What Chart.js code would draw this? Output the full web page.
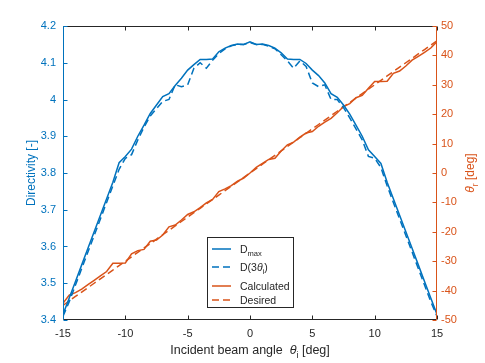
<!DOCTYPE html>
<html>
<head>
<meta charset="utf-8">
<script src="https://cdn.jsdelivr.net/npm/chart.js@4"></script>
<style>
html,body{margin:0;padding:0;background:#fff;}
#c{display:block;}
</style>
</head>
<body>
<canvas id="c" width="485" height="363"></canvas>
<script>
// ---- data ----
const thetaI = [-15,-14.5,-14,-13.5,-13,-12.5,-12,-11.5,-11,-10.5,-10,-9.5,-9,-8.5,-8,-7.5,-7,-6.5,-6,-5.5,-5,-4.5,-4,-3.5,-3,-2.5,-2,-1.5,-1,-0.5,0,0.5,1,1.5,2,2.5,3,3.5,4,4.5,5,5.5,6,6.5,7,7.5,8,8.5,9,9.5,10,10.5,11,11.5,12,12.5,13,13.5,14,14.5,15];
const dMax = [3.415,3.46,3.505,3.55,3.595,3.64,3.685,3.73,3.775,3.828,3.845,3.865,3.90,3.93,3.962,3.985,4.008,4.016,4.038,4.058,4.08,4.095,4.109,4.109,4.11,4.13,4.14,4.147,4.151,4.150,4.157,4.150,4.151,4.147,4.14,4.127,4.11,4.109,4.109,4.098,4.08,4.065,4.045,4.016,4.006,3.985,3.96,3.93,3.90,3.863,3.845,3.826,3.775,3.73,3.685,3.64,3.595,3.55,3.505,3.46,3.415];
const d3Theta = [3.41,3.45,3.495,3.54,3.585,3.63,3.675,3.72,3.765,3.81,3.84,3.85,3.89,3.925,3.955,3.975,3.995,4.0,4.04,4.035,4.04,4.085,4.1,4.085,4.107,4.125,4.138,4.146,4.15,4.15,4.155,4.15,4.15,4.145,4.138,4.122,4.105,4.085,4.105,4.09,4.045,4.035,4.04,4.0,4.0,3.978,3.95,3.92,3.89,3.845,3.84,3.815,3.765,3.72,3.675,3.63,3.585,3.54,3.495,3.45,3.41];
const calculated = [-44.3,-41.5,-40.7,-39.5,-38.0,-36.5,-35.0,-33.5,-30.7,-30.7,-30.6,-27.5,-26.4,-26.0,-23.2,-22.8,-21.1,-18.3,-17.7,-16.0,-14.1,-13.2,-11.8,-10.2,-9.0,-6.3,-5.4,-4.3,-2.8,-1.7,0,1.9,3.3,4.6,5.0,7.5,9.6,10.5,12.2,13.6,14.1,15.9,17.3,18.6,20.5,22.6,23.6,25.6,26.4,28.8,31.1,31.1,31.2,33.9,34.7,36.4,38.4,39.7,41.0,42.5,44.7];
const desired = [-45,-43.5,-42,-40.5,-39,-37.5,-36,-34.5,-33,-31.5,-30,-28.5,-27,-25.5,-24,-22.5,-21,-19.5,-18,-16.5,-15,-13.5,-12,-10.5,-9,-7.5,-6,-4.5,-3,-1.5,0,1.5,3,4.5,6,7.5,9,10.5,12,13.5,15,16.5,18,19.5,21,22.5,24,25.5,27,28.5,30,31.5,33,34.5,36,37.5,39,40.5,42,43.5,45];
const xTickValues = [-15,-10,-5,0,5,10,15];
const leftTickValues = [3.4,3.5,3.6,3.7,3.8,3.9,4.0,4.1,4.2];
const rightTickValues = [-50,-40,-30,-20,-10,0,10,20,30,40,50];
const legendLabels = ['D_max','D(3θ_i)','Calculated','Desired'];

const BLUE = '#0072BD', ORANGE = '#D95319', DARK = '#262626';
const FONT = '"Liberation Sans", Arial, Helvetica, sans-serif';

function pts(ys){ return thetaI.map((x,i)=>({x:x,y:ys[i]})); }

// rich text helper: segments {t, italic, sub}
function richWidth(ctx, segs, size){
  let w=0;
  for(const s of segs){
    const fs = s.sub ? size*0.72 : size;
    ctx.font = (s.italic?'italic ':'') + fs + 'px ' + FONT;
    w += ctx.measureText(s.t).width;
  }
  return w;
}
function richDraw(ctx, segs, size, x, y){
  for(const s of segs){
    const fs = s.sub ? size*0.72 : size;
    ctx.font = (s.italic?'italic ':'') + fs + 'px ' + FONT;
    ctx.fillText(s.t, x, y + (s.sub ? size*0.3 : 0));
    x += ctx.measureText(s.t).width;
  }
}

const decor = {
  id:'decor',
  afterDraw(chart){
    const ctx = chart.ctx, a = chart.chartArea;
    const sx = chart.scales.x, sy = chart.scales.y, sy1 = chart.scales.y1;
    const L = Math.round(a.left)+0.5, R = Math.round(a.right)-0.5, T = Math.round(a.top)+0.5, B = Math.round(a.bottom)-0.5;
    ctx.save();
    ctx.lineWidth = 1;
    ctx.strokeStyle = DARK;
    ctx.beginPath();
    ctx.moveTo(L,T); ctx.lineTo(R,T);
    ctx.moveTo(L,B); ctx.lineTo(R,B);
    for(const v of xTickValues){
      const px = Math.round(sx.getPixelForValue(v))+0.5;
      ctx.moveTo(px,B); ctx.lineTo(px,B-4);
      ctx.moveTo(px,T); ctx.lineTo(px,T+4);
    }
    ctx.stroke();
    ctx.strokeStyle = BLUE;
    ctx.beginPath();
    ctx.moveTo(L,T); ctx.lineTo(L,B);
    for(const v of leftTickValues){
      const py = Math.round(sy.getPixelForValue(v))+0.5;
      ctx.moveTo(L,py); ctx.lineTo(L+4,py);
    }
    ctx.stroke();
    ctx.strokeStyle = ORANGE;
    ctx.beginPath();
    ctx.moveTo(R,T); ctx.lineTo(R,B);
    for(const v of rightTickValues){
      const py = Math.round(sy1.getPixelForValue(v))+0.5;
      ctx.moveTo(R,py); ctx.lineTo(R-4,py);
    }
    ctx.stroke();

    // axis titles
    const midY = (a.top+a.bottom)/2;
    ctx.textBaseline = 'alphabetic';
    ctx.fillStyle = BLUE;
    ctx.save();
    ctx.translate(35, midY); ctx.rotate(-Math.PI/2);
    let segs = [{t:'Directivity [-]'}];
    let w = richWidth(ctx, segs, 12);
    richDraw(ctx, segs, 12, -w/2, 0);
    ctx.restore();

    ctx.fillStyle = ORANGE;
    ctx.save();
    ctx.translate(474, midY); ctx.rotate(-Math.PI/2);
    segs = [{t:'θ',italic:true},{t:'r',sub:true},{t:' [deg]'}];
    w = richWidth(ctx, segs, 12);
    richDraw(ctx, segs, 12, -w/2, 0);
    ctx.restore();

    ctx.fillStyle = DARK;
    segs = [{t:'Incident beam angle  '},{t:'θ',italic:true},{t:'i',sub:true},{t:' [deg]'}];
    w = richWidth(ctx, segs, 12.5);
    richDraw(ctx, segs, 12.5, (a.left+a.right)/2 - w/2, 354);

    // legend
    const bx = 207.5, by = 237.5, bw = 86, bh = 70;
    ctx.fillStyle = '#fff';
    ctx.fillRect(bx,by,bw,bh);
    ctx.strokeStyle = DARK; ctx.lineWidth = 1;
    ctx.strokeRect(bx,by,bw,bh);
    const ds = chart.data.datasets;
    const rows = [
      {y:249, segs:[{t:'D'},{t:'max',sub:true}]},
      {y:267, segs:[{t:'D(3'},{t:'θ',italic:true},{t:'i',sub:true},{t:')'}]},
      {y:286, segs:[{t:'Calculated'}]},
      {y:300, segs:[{t:'Desired'}]}
    ];
    rows.forEach((r,i)=>{
      ctx.strokeStyle = ds[i].borderColor; ctx.lineWidth = 1.5;
      ctx.setLineDash(ds[i].borderDash || []);
      ctx.beginPath(); ctx.moveTo(212, r.y); ctx.lineTo(231, r.y); ctx.stroke();
      ctx.setLineDash([]);
      ctx.fillStyle = DARK;
      richDraw(ctx, r.segs, 10.5, 240, r.y+4);
    });
    ctx.restore();
  }
};

const fmt = v => String(Math.round(v*10)/10);

new Chart(document.getElementById('c'), {
  type:'line',
  data:{
    datasets:[
      {label:legendLabels[0], data:pts(dMax), yAxisID:'y', borderColor:BLUE, borderWidth:1.5, pointRadius:0, tension:0, fill:false},
      {label:legendLabels[1], data:pts(d3Theta), yAxisID:'y', borderColor:BLUE, borderWidth:1.5, borderDash:[7,4], pointRadius:0, tension:0, fill:false},
      {label:legendLabels[2], data:pts(calculated), yAxisID:'y1', borderColor:ORANGE, borderWidth:1.5, pointRadius:0, tension:0, fill:false},
      {label:legendLabels[3], data:pts(desired), yAxisID:'y1', borderColor:ORANGE, borderWidth:1.5, borderDash:[7,4], pointRadius:0, tension:0, fill:false}
    ]
  },
  options:{
    responsive:false, animation:false, devicePixelRatio:1,
    layout:{padding:{top:26,left:0,right:0,bottom:0}},
    plugins:{legend:{display:false}, tooltip:{enabled:false}},
    scales:{
      x:{type:'linear', min:-15, max:15,
         afterBuildTicks:s=>{s.ticks = xTickValues.map(v=>({value:v}));},
         afterFit:s=>{s.height=43;},
         grid:{display:false, drawTicks:false}, border:{display:false},
         ticks:{color:DARK, padding:7, maxRotation:0, font:{family:FONT,size:11}, callback:v=>String(v)}},
      y:{type:'linear', position:'left', min:3.4, max:4.2,
         afterBuildTicks:s=>{s.ticks = leftTickValues.map(v=>({value:v}));},
         afterFit:s=>{s.width=63;},
         grid:{display:false, drawTicks:false}, border:{display:false},
         ticks:{color:BLUE, padding:7, font:{family:FONT,size:11}, callback:v=>fmt(v)}},
      y1:{type:'linear', position:'right', min:-50, max:50,
         afterBuildTicks:s=>{s.ticks = rightTickValues.map(v=>({value:v}));},
         afterFit:s=>{s.width=48;},
         grid:{display:false, drawTicks:false}, border:{display:false},
         ticks:{color:ORANGE, padding:4, font:{family:FONT,size:11}, callback:v=>String(v)}}
    }
  },
  plugins:[decor]
});
</script>
</body>
</html>
